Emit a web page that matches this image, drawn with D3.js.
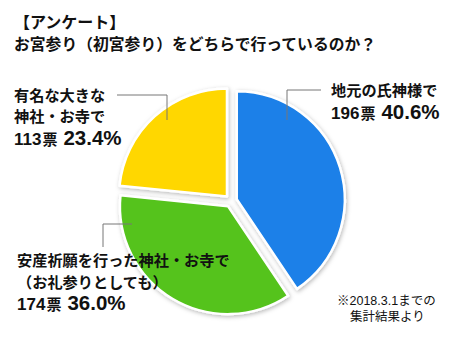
<!DOCTYPE html>
<html><head><meta charset="utf-8">
<script src="https://cdn.jsdelivr.net/npm/d3@7"></script>
<style>
html,body{margin:0;padding:0;background:#fff;}
svg{display:block;}
text{font-family:"Liberation Sans","Noto Sans CJK JP",sans-serif;fill:#111;}
</style></head>
<body>
<svg id="chart" width="460" height="340"></svg>
<script>
const categories = ["地元の氏神様で", "安産祈願を行った神社・お寺で", "有名な大きな神社・お寺で"];
const votes = [196, 174, 113];
const percents = [40.6, 36.0, 23.4];
const colors = ["#1a80e8", "#55c31c", "#ffd700"];
const titleLines = ["【アンケート】", "お宮参り（初宮参り）をどちらで行っているのか？"];
const noteLines = ["※2018.3.1までの", "集計結果より"];

const svg = d3.select("#chart");
const defs = svg.append("defs");
const f = defs.append("filter").attr("id","sh").attr("x","-20%").attr("y","-20%").attr("width","140%").attr("height","140%");
f.append("feDropShadow").attr("dx",1).attr("dy",1.5).attr("stdDeviation",2).attr("flood-color","#000").attr("flood-opacity",0.28);

// title
svg.append("text").attr("x",14).attr("y",28).attr("font-size",16).attr("font-weight","bold").text(titleLines[0]);
svg.append("text").attr("x",14).attr("y",50).attr("font-size",15.8).attr("font-weight","bold").text(titleLines[1]);

const cx = 231, cy = 201, r = 108, off = 6;
const pie = d3.pie().sort(null).value(d => d)(votes);
const arc = d3.arc().innerRadius(0).outerRadius(r);
const g = svg.append("g").attr("transform",`translate(${cx},${cy})`);
g.selectAll("path").data(pie).join("path")
  .attr("d", arc)
  .attr("transform", d => {
    const a = (d.startAngle + d.endAngle)/2;
    return `translate(${off*Math.sin(a)},${-off*Math.cos(a)})`;
  })
  .attr("fill",(d,i)=>colors[i])
  .attr("stroke","#fff").attr("stroke-width",2.5).attr("stroke-linejoin","round")
  .attr("filter","url(#sh)");

// leader lines
const leaders = [
  [[287,120],[287,90],[321,90]],
  [[132,224],[103,224],[103,247]],
  [[167,120],[167,95],[117,95]]
];
const line = d3.line();
svg.selectAll("path.leader").data(leaders).join("path").attr("class","leader")
  .attr("d", line).attr("fill","none").attr("stroke","#777").attr("stroke-width",1);

// labels
function label(x, y0, lines, lh, idx, valY) {
  lines.forEach((t,k)=>{
    svg.append("text").attr("x",x).attr("y",y0+k*lh).attr("font-size",15.2).attr("font-weight","bold").text(t);
  });
  const t = svg.append("text").attr("x",x).attr("y",valY).attr("font-weight","bold");
  t.append("tspan").attr("font-size",17).text(votes[idx]);
  t.append("tspan").attr("font-size",15).attr("dx",1).text("票");
  t.append("tspan").attr("font-size",20.5).attr("dx",6).text(percents[idx].toFixed(1)+"%");
}
label(331, 96, ["地元の氏神様で"], 21, 0, 119);
label(17, 266, ["安産祈願を行った神社・お寺で", "（お礼参りとしても）"], 21.5, 1, 310);
label(14, 101, ["有名な大きな", "神社・お寺で"], 21, 2, 145);

// note
svg.append("text").attr("x",337).attr("y",305).attr("font-size",12.5).text(noteLines[0]);
svg.append("text").attr("x",350).attr("y",321).attr("font-size",12.5).text(noteLines[1]);
</script>
</body></html>
